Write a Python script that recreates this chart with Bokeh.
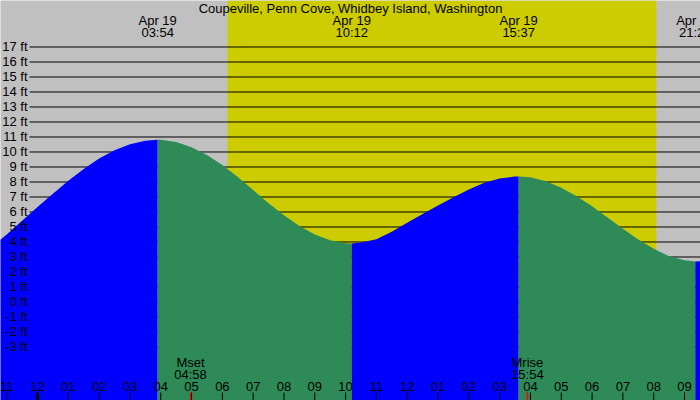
from bokeh.plotting import figure
from bokeh.models import Range1d
from bokeh.embed import file_html
from bokeh.resources import INLINE
from bokeh.core.properties import value

# ---------------- data ----------------
title = "Coupeville, Penn Cove, Whidbey Island, Washington"
date_label = "Apr 19"

# tide height readings (hours after Apr 19 00:00, feet)
tide_hours = [-1.5, -1.0, -0.5, 0.0, 0.5, 1.0, 1.5, 2.0, 2.5, 3.0, 3.5, 4.0,
              4.5, 5.0, 5.5, 6.0, 6.5, 7.0, 7.5, 8.0, 8.5, 9.0, 9.5, 10.0,
              10.5, 11.0, 11.5, 12.0, 12.5, 13.0, 13.5, 14.0, 14.5, 15.0, 15.5, 16.0,
              16.5, 17.0, 17.5, 18.0, 18.5, 19.0, 19.5, 20.0, 20.5, 21.0, 21.5, 22.0]
tide_ft = [3.65, 4.50, 5.42, 6.33, 7.22, 8.08, 8.87, 9.56, 10.12, 10.52, 10.75, 10.81,
           10.67, 10.31, 9.80, 9.13, 8.33, 7.46, 6.59, 5.78, 5.07, 4.50, 4.11, 3.92,
           3.96, 4.18, 4.68, 5.28, 5.86, 6.43, 6.98, 7.50, 7.95, 8.24, 8.36, 8.31,
           8.05, 7.62, 7.05, 6.38, 5.64, 4.88, 4.17, 3.55, 3.05, 2.78, 2.71, 2.80]

event_times = ["03:54", "10:12", "15:37", "21:21"]
event_ft = [10.82, 3.90, 8.37, 2.70]

sun_times = ["06:10", "20:05"]
moon_names = ["Mset", "Mrise"]
moon_times = ["04:58", "15:54"]

ft_ticks = list(range(-3, 18))
hour_ticks = list(range(-1, 22))
hour_labels = ["11", "12", "01", "02", "03", "04", "05", "06", "07", "08", "09", "10",
               "11", "12", "01", "02", "03", "04", "05", "06", "07", "08", "09"]


def hours(s):
    h, m = s.split(":")
    return int(h) + int(m) / 60.0


# ---------------- geometry ----------------
W, H = 700, 400
X0, X1 = -1.201, 21.519
Y0, Y1 = -6.5667, 20.1
FONT = value("Liberation Sans")
FS = "13px"


def xpix(px):
    return X0 + px * (X1 - X0) / W


def ypix(py):
    return Y1 - py * (Y1 - Y0) / H


p = figure(width=W, height=H, x_range=Range1d(X0, X1), y_range=Range1d(Y0, Y1),
           output_backend="svg", toolbar_location=None, min_border=0,
           x_axis_type=None, y_axis_type=None,
           background_fill_color="#C0C0C0", border_fill_color="#C0C0C0",
           outline_line_color=None)
p.grid.visible = False

# daylight
sr, ss = hours(sun_times[0]), hours(sun_times[1])
p.quad(left=[sr], right=[ss], bottom=[Y0], top=[Y1],
       fill_color="#CCCC00", line_color=None)

# horizontal grid lines
p.segment(x0=[xpix(29)] * len(ft_ticks), x1=[X1] * len(ft_ticks),
          y0=ft_ticks, y1=ft_ticks, line_color="black", line_width=1)

# tide water fill, split into rising (blue) / falling (green) parts
ev_h = [hours(t) for t in event_times]
pts = sorted(list(zip(tide_hours, tide_ft)) + list(zip(ev_h, event_ft)))
bounds = [tide_hours[0]] + ev_h + [tide_hours[-1]]
colors = ["#0000FF", "#2E8B57"]
for i in range(len(bounds) - 1):
    a, b = bounds[i], bounds[i + 1]
    seg = [(t, h) for t, h in pts if a <= t <= b]
    xs = [t for t, _ in seg]
    ys = [h for _, h in seg]
    p.varea(x=xs, y1=[Y0] * len(xs), y2=ys, fill_color=colors[i % 2])

# y labels
p.text(x=[xpix(27)] * len(ft_ticks), y=ft_ticks, text=[f"{v} ft" for v in ft_ticks],
       text_align="right", text_baseline="middle", text_font=FONT,
       text_font_size=FS, text_color="black")

# title
p.text(x=[xpix(350)], y=[ypix(8)], text=[title], text_align="center",
       text_baseline="middle", text_font=FONT, text_font_size=FS, text_color="black")

# tide event labels
p.text(x=ev_h, y=[ypix(20)] * len(ev_h), text=[date_label] * len(ev_h),
       text_align="center", text_baseline="middle", text_font=FONT,
       text_font_size=FS, text_color="black")
p.text(x=ev_h, y=[ypix(32)] * len(ev_h), text=event_times,
       text_align="center", text_baseline="middle", text_font=FONT,
       text_font_size=FS, text_color="black")

# hour ticks and labels
widths = [3 if h % 24 == 0 else 1 for h in hour_ticks]
p.segment(x0=hour_ticks, x1=hour_ticks, y0=[ypix(392)] * len(hour_ticks),
          y1=[Y0] * len(hour_ticks), line_color="black", line_width=widths)
p.text(x=hour_ticks, y=[ypix(386)] * len(hour_ticks), text=hour_labels,
       text_align="center", text_baseline="middle", text_font=FONT,
       text_font_size=FS, text_color="black")

# moon events
mh = [hours(t) for t in moon_times]
p.segment(x0=mh, x1=mh, y0=[ypix(392)] * len(mh), y1=[Y0] * len(mh),
          line_color="red", line_width=1.5)
p.text(x=mh, y=[ypix(362)] * len(mh), text=moon_names, text_align="center",
       text_baseline="middle", text_font=FONT, text_font_size=FS, text_color="black")
p.text(x=mh, y=[ypix(373.5)] * len(mh), text=moon_times, text_align="center",
       text_baseline="middle", text_font=FONT, text_font_size=FS, text_color="black")

open("out.html", "w").write(file_html(p, INLINE))
